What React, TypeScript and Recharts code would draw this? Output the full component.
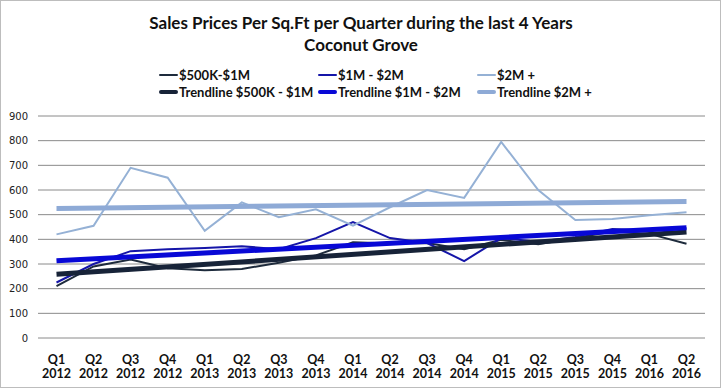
import React from 'react';
import { LineChart, Line, XAxis, YAxis, CartesianGrid } from 'recharts';

const quarters = [
  'Q1 2012', 'Q2 2012', 'Q3 2012', 'Q4 2012',
  'Q1 2013', 'Q2 2013', 'Q3 2013', 'Q4 2013',
  'Q1 2014', 'Q2 2014', 'Q3 2014', 'Q4 2014',
  'Q1 2015', 'Q2 2015', 'Q3 2015', 'Q4 2015',
  'Q1 2016', 'Q2 2016',
];

const low = [210, 290, 318, 283, 275, 280, 305, 335, 388, 383, 385, 360, 398, 380, 405, 432, 422, 382];
const mid = [225, 300, 352, 360, 365, 372, 360, 405, 470, 405, 385, 312, 405, 390, 410, 442, 437, 445];
const high = [420, 455, 690, 650, 435, 550, 490, 522, 455, 530, 600, 568, 795, 600, 478, 482, 498, 510];

// trendline start / end values (first and last quarter)
const trendLow = [258, 430];
const trendMid = [313, 447];
const trendHigh = [525, 553];

const yTicks = [0, 100, 200, 300, 400, 500, 600, 700, 800, 900];

const series = [
  { key: 'low', name: '$500K-$1M', color: '#1e2b3c', width: 2 },
  { key: 'mid', name: '$1M - $2M', color: '#1515a8', width: 2 },
  { key: 'high', name: '$2M +', color: '#95b1d5', width: 2 },
  { key: 'tLow', name: 'Trendline $500K - $1M', color: '#172338', width: 5 },
  { key: 'tMid', name: 'Trendline $1M - $2M', color: '#0808d6', width: 5 },
  { key: 'tHigh', name: 'Trendline $2M +', color: '#8eaad6', width: 5 },
];

const last = quarters.length - 1;
const data = quarters.map((q, i) => ({
  q,
  low: low[i],
  mid: mid[i],
  high: high[i],
  tLow: i === 0 ? trendLow[0] : i === last ? trendLow[1] : null,
  tMid: i === 0 ? trendMid[0] : i === last ? trendMid[1] : null,
  tHigh: i === 0 ? trendHigh[0] : i === last ? trendHigh[1] : null,
}));

const font = 'Lato, "Liberation Sans", sans-serif';

function QuarterTick(props: any) {
  const { x, y, payload } = props;
  const [a, b] = String(payload.value).split(' ');
  return (
    <g transform={`translate(${x},${y})`}>
      <text textAnchor="middle" fontFamily={font} fontWeight="bold" fontSize={12.5} fill="#111">
        <tspan x={0} dy={18}>{a}</tspan>
        <tspan x={0} dy={14}>{b}</tspan>
      </text>
    </g>
  );
}

export default function App() {
  const cols = [159, 318, 477];
  return (
    <div style={{ position: 'absolute', left: 0, top: 0, width: 722, height: 389, background: '#fff', fontFamily: font }}>
      <div style={{ position: 'absolute', left: 0, top: 0, width: 721, height: 388, border: '1px solid #bdbdbd', boxSizing: 'border-box' }} />
      <div style={{ position: 'absolute', left: 0, width: 722, top: 12, textAlign: 'center', fontWeight: 'bold', fontSize: 17, lineHeight: '22px', color: '#111' }}>
        Sales Prices Per Sq.Ft per Quarter during the last 4 Years
        <br />
        Coconut Grove
      </div>
      {series.map((s, i) => (
        <div key={s.key} style={{ position: 'absolute', left: cols[i % 3], top: i < 3 ? 66 : 83, height: 18, display: 'flex', alignItems: 'center', fontWeight: 'bold', fontSize: 13, color: '#111', whiteSpace: 'nowrap' }}>
          <span style={{ display: 'inline-block', width: 19, height: s.width === 5 ? 4 : 2, background: s.color, borderRadius: 2, marginRight: 1 }} />
          {s.name}
        </div>
      ))}
      <div style={{ position: 'absolute', left: 0, top: 0 }}>
        <LineChart width={722} height={389} data={data} margin={{ top: 116, right: 17, bottom: 0, left: 0 }}>
          <CartesianGrid vertical={false} stroke="#8a8a8a" strokeWidth={1} />
          <XAxis
            dataKey="q"
            axisLine={false}
            tickLine={false}
            height={51}
            interval={0}
            padding={{ left: 18.5, right: 18.5 }}
            tick={<QuarterTick />}
          />
          <YAxis
            domain={[0, 900]}
            ticks={yTicks}
            width={38}
            axisLine={false}
            tickLine={false}
            tickSize={0}
            tickMargin={10}
            tick={{ fontSize: 10, fill: '#222', fontFamily: '"DejaVu Sans", sans-serif' }}
          />
          {series.map((s) => (
            <Line
              key={s.key}
              dataKey={s.key}
              name={s.name}
              type="linear"
              stroke={s.color}
              strokeWidth={s.width}
              dot={false}
              activeDot={false}
              connectNulls
              isAnimationActive={false}
            />
          ))}
        </LineChart>
      </div>
    </div>
  );
}
